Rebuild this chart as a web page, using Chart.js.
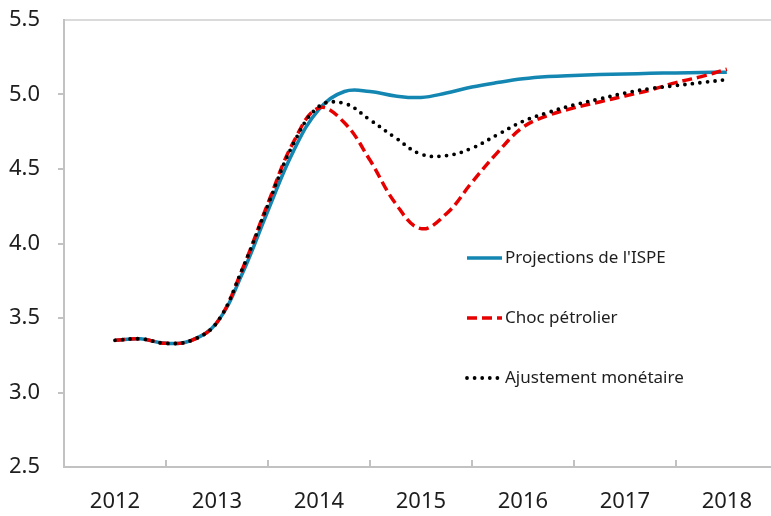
<!DOCTYPE html>
<html lang="fr">
<head>
<meta charset="utf-8">
<script src="https://cdn.jsdelivr.net/npm/chart.js@4.4.1/dist/chart.umd.min.js"></script>
<style>
  html, body { margin: 0; padding: 0; background: #fff; overflow: hidden; }
  /* le graphique original est coupé à droite : on dessine un peu plus large que la fenêtre */
  #wrap { position: relative; width: 781px; height: 516px; }
</style>
</head>
<body>
<div id="wrap"><canvas id="chart"></canvas></div>
<script>
// --- Données (trimestrielles) ---
const periodes = [
    2012, 2012.25, 2012.5, 2012.75,
    2013, 2013.25, 2013.5, 2013.75,
    2014, 2014.25, 2014.5, 2014.75,
    2015, 2015.25, 2015.5, 2015.75,
    2016, 2016.25, 2016.5, 2016.75,
    2017, 2017.25, 2017.5, 2017.75,
    2018
];

const projectionsISPE = [
    3.35, 3.36, 3.33, 3.35,
    3.47, 3.80, 4.22, 4.62,
    4.90, 5.02, 5.02, 4.99,
    4.98, 5.01, 5.05, 5.08,
    5.105, 5.12, 5.128, 5.134,
    5.138, 5.142, 5.145, 5.148,
    5.15
];

const chocPetrolier = [
    3.35, 3.36, 3.33, 3.35,
    3.47, 3.83, 4.27, 4.68,
    4.91, 4.81, 4.56, 4.27,
    4.10, 4.20, 4.41, 4.61,
    4.78, 4.86, 4.91, 4.95,
    4.99, 5.03, 5.08, 5.12,
    5.17
];

const ajustementMonetaire = [
    3.35, 3.36, 3.33, 3.35,
    3.47, 3.83, 4.26, 4.67,
    4.92, 4.94, 4.83, 4.71,
    4.60, 4.59, 4.64, 4.73,
    4.82, 4.88, 4.93, 4.97,
    5.01, 5.04, 5.06, 5.08,
    5.10
];

const annees = [2012, 2013, 2014, 2015, 2016, 2017, 2018];
const graduationsY = [2.5, 3.0, 3.5, 4.0, 4.5, 5.0, 5.5];

const couleurAxe = '#c2c2c2';
const couleurTexte = '#1e1e1e';

Chart.defaults.font.family = "'Noto Sans', sans-serif";

const toPoints = (valeurs) => periodes.map((x, i) => ({ x, y: valeurs[i] }));

// Légende dessinée dans la zone du graphique (comme dans l'original)
const legendeInterne = {
    id: 'legendeInterne',
    afterDatasetsDraw(chart) {
        const ctx = chart.ctx;
        const xDebut = 467, xFin = 502, xTexte = 505;
        const lignes = [258, 318, 378];
        chart.data.datasets.forEach((ds, i) => {
            const y = lignes[i];
            ctx.save();
            ctx.strokeStyle = ds.borderColor;
            ctx.lineWidth = ds.borderWidth;
            ctx.lineCap = ds.borderCapStyle || 'butt';
            ctx.setLineDash(ds.borderDash || []);
            ctx.beginPath();
            ctx.moveTo(xDebut, y);
            ctx.lineTo(xFin, y);
            ctx.stroke();
            ctx.setLineDash([]);
            ctx.fillStyle = couleurTexte;
            ctx.font = "17px 'Noto Sans', sans-serif";
            ctx.textBaseline = 'middle';
            ctx.fillText(ds.label, xTexte, y);
            ctx.restore();
        });
    }
};

new Chart(document.getElementById('chart'), {
    type: 'line',
    data: {
        datasets: [{
            label: "Projections de l'ISPE",
            data: toPoints(projectionsISPE),
            borderColor: '#1386b2',
            borderWidth: 3.5,
            order: 3
        }, {
            label: 'Choc pétrolier',
            data: toPoints(chocPetrolier),
            borderColor: '#e60000',
            borderWidth: 3.5,
            borderDash: [10, 5],
            order: 2
        }, {
            label: 'Ajustement monétaire',
            data: toPoints(ajustementMonetaire),
            borderColor: '#000000',
            borderWidth: 3.8,
            borderDash: [0, 7.6],
            borderCapStyle: 'round',
            order: 1
        }]
    },
    options: {
        responsive: true,
        maintainAspectRatio: false,
        animation: false,
        layout: { padding: { top: 20, left: 0, right: 0, bottom: 0 } },
        elements: {
            point: { radius: 0 },
            line: { tension: 0.4, fill: false }
        },
        plugins: {
            legend: { display: false },
            tooltip: { enabled: false }
        },
        scales: {
            x: {
                type: 'linear',
                min: 2011.5,
                max: 2018.5,
                afterBuildTicks: (s) => { s.ticks = annees.map(v => ({ value: v })); },
                afterFit: (s) => { s.height = 49; },
                ticks: {
                    font: { size: 22 },
                    color: couleurTexte,
                    padding: 29,
                    autoSkip: false,
                    maxRotation: 0,
                    callback: (v) => String(v)
                },
                grid: {
                    offset: true,          // graduations entre les années
                    drawOnChartArea: false,
                    tickLength: -7,        // graduations vers l'intérieur
                    color: couleurAxe,
                    lineWidth: 2
                },
                border: { color: couleurAxe, width: 2 }
            },
            y: {
                min: 2.5,
                max: 5.5,
                afterBuildTicks: (s) => { s.ticks = graduationsY.map(v => ({ value: v })); },
                afterFit: (s) => { s.width = 64; s.paddingTop = 0; s.paddingBottom = 0; },
                ticks: {
                    font: { size: 22 },
                    color: couleurTexte,
                    padding: 18,
                    callback: (v) => Number(v).toFixed(1)
                },
                grid: {
                    drawOnChartArea: true,
                    // seule la ligne du haut (bordure de la zone) est visible
                    color: (c) => (c.tick && c.tick.value === 5.5) ? '#dadada' : 'rgba(0,0,0,0)',
                    tickColor: (c) => (c.tick && (c.tick.value === 5.5 || c.tick.value === 2.5)) ? 'rgba(0,0,0,0)' : couleurAxe,
                    tickLength: 6,
                    lineWidth: 2
                },
                border: { color: couleurAxe, width: 2 }
            }
        }
    },
    plugins: [legendeInterne]
});
</script>
</body>
</html>
